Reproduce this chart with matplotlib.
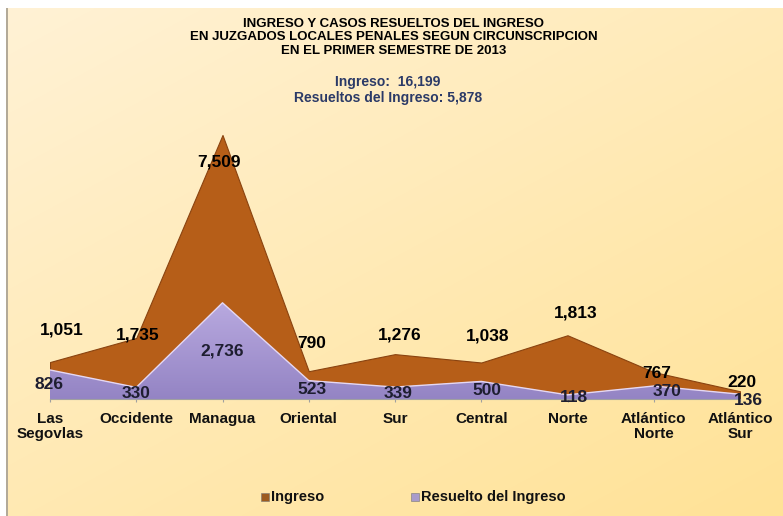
import numpy as np
import matplotlib
matplotlib.use("Agg")
import matplotlib.pyplot as plt
from matplotlib.colors import LinearSegmentedColormap
from matplotlib.patches import Rectangle

plt.rcParams['font.family'] = ['Liberation Sans', 'DejaVu Sans']

categories = ["Las\nSegovlas", "Occidente", "Managua", "Oriental", "Sur",
              "Central", "Norte", "Atlántico\nNorte", "Atlántico\nSur"]
ingreso = [1051, 1735, 7509, 790, 1276, 1038, 1813, 767, 220]
resuelto = [826, 330, 2736, 523, 339, 500, 118, 370, 136]
title_lines = ["INGRESO Y CASOS RESUELTOS DEL INGRESO",
               "EN JUZGADOS LOCALES PENALES SEGUN CIRCUNSCRIPCION",
               "EN EL PRIMER SEMESTRE DE 2013"]
subtitle_lines = ["Ingreso:  16,199", "Resueltos del Ingreso: 5,878"]
legend_labels = ["Ingreso", "Resuelto del Ingreso"]

# label offsets in pixels (dx right, dy up) relative to data points
ing_off = [(12, 32), (1, 3), (-4, -27), (3, 28), (5, 19), (6, 27), (8, 22), (3, -1), (2, 9)]
res_off = [(-1, -15), (0, -6), (0, -48), (3, -9), (3, -6), (6, -9), (6, -3), (13, -6), (8, -6)]

W, H = 783, 516
fig = plt.figure(figsize=(W / 100, H / 100), dpi=100)

# background gradient
bg = fig.add_axes([0, 0, 1, 1], zorder=0)
bg.axis('off')
yy, xx = np.mgrid[0:H, 0:W]
t = 0.45 * xx / W + 0.55 * yy / H
c1 = np.array([255, 242, 214]) / 255
c2 = np.array([255, 226, 150]) / 255
img = c1[None, None, :] * (1 - t[..., None]) + c2[None, None, :] * t[..., None]
bg.imshow(img, extent=[0, W, H, 0], aspect='auto', interpolation='bilinear')
bg.add_patch(Rectangle((0, 0), W, 8, color='white', lw=0))
bg.add_patch(Rectangle((0, 0), 6, H, color='white', lw=0))
bg.add_patch(Rectangle((6, 8), 1.6, H - 8, color='#b3aa98', lw=0))
bg.set_xlim(0, W)
bg.set_ylim(H, 0)

# main axes
x0, x1 = 50, 740
ybase, ytop = 399, 117.7
ax = fig.add_axes([x0 / W, (H - ybase) / H, (x1 - x0) / W, (ybase - ytop) / H], zorder=1)
ax.patch.set_alpha(0)
x = np.arange(len(categories))

ax.fill_between(x, ingreso, 0, facecolor='#b65e18', edgecolor='#8a4310', lw=0.8, zorder=2)
poly = ax.fill_between(x, resuelto, 0, facecolor='#a898d0', edgecolor='none', zorder=3)
cmap = LinearSegmentedColormap.from_list('lav', ['#9484c4', '#b9aae0'])
grad = np.linspace(0, 1, 256).reshape(-1, 1)
im = ax.imshow(grad, extent=[0, 8, 0, 2800], aspect='auto', cmap=cmap, origin='lower', zorder=3)
im.set_clip_path(poly.get_paths()[0], transform=ax.transData)
ax.plot(x, resuelto, color='#e6d8f2', lw=1.0, zorder=4)

ax.set_xlim(0, 8)
ax.set_ylim(0, 8000)
for s in ['top', 'right', 'left']:
    ax.spines[s].set_visible(False)
ax.spines['bottom'].set_color('#a0a0a0')
ax.spines['bottom'].set_zorder(5)
ax.set_yticks([])
ax.set_xticks(x)
ax.set_xticklabels(categories, fontsize=11, fontweight='bold', color='#111111', linespacing=1.05)
ax.tick_params(axis='x', length=2.5, color='#a0a0a0', pad=7)

for i, v in enumerate(ingreso):
    ax.annotate(f"{v:,}", (x[i], v), xytext=ing_off[i], textcoords='offset pixels',
                ha='center', va='center', fontsize=12.5, fontweight='bold', color='#000000', zorder=6)
for i, v in enumerate(resuelto):
    ax.annotate(f"{v:,}", (x[i], v), xytext=res_off[i], textcoords='offset pixels',
                ha='center', va='center', fontsize=12.5, fontweight='bold', color='#1e1e30', zorder=6)

# titles
for k, line in enumerate(title_lines):
    fig.text(394 / W, 1 - (24 + 13.5 * k) / H, line, ha='center', va='center',
             fontsize=9.5, fontweight='bold', color='#000000')
for k, line in enumerate(subtitle_lines):
    fig.text(388 / W, 1 - (82 + 16 * k) / H, line, ha='center', va='center',
             fontsize=10, fontweight='bold', color='#2b3a67')

# legend
leg_y = 497
sq_cols = ['#9c5a1e', '#a99bcb']
sq_x = [261, 411]
tx_x = [271, 421]
for c, sx, tx, lab in zip(sq_cols, sq_x, tx_x, legend_labels):
    bg.add_patch(Rectangle((sx, leg_y - 4), 8, 8, facecolor=c, edgecolor='#777777', lw=0.4))
    bg.text(tx, leg_y, lab, ha='left', va='center', fontsize=10.5, fontweight='bold', color='#111111')

fig.savefig('out.png', dpi=100)
